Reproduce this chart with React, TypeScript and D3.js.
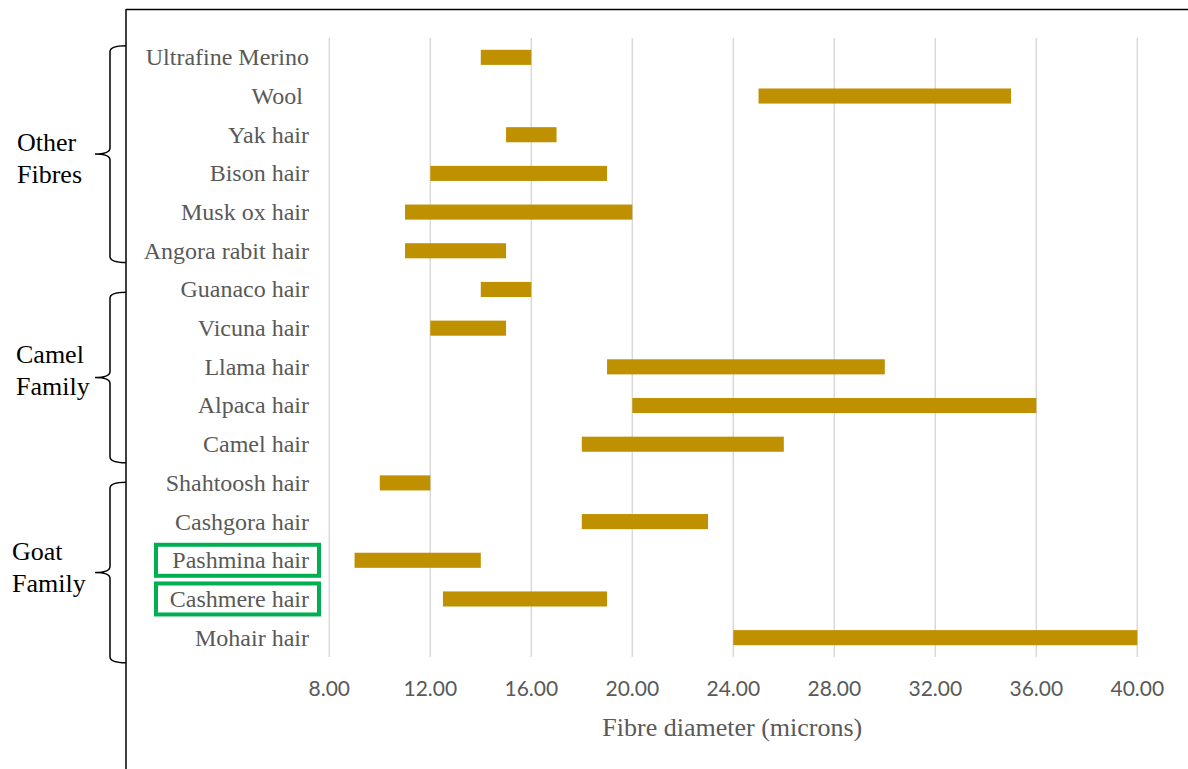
import React, { useEffect, useRef } from 'react';
import * as d3 from 'd3';

// fibre categories, top to bottom
const categories = [
  'Ultrafine Merino', 'Wool ', 'Yak hair', 'Bison hair', 'Musk ox hair',
  'Angora rabit hair', 'Guanaco hair', 'Vicuna hair', 'Llama hair', 'Alpaca hair',
  'Camel hair', 'Shahtoosh hair', 'Cashgora hair', 'Pashmina hair', 'Cashmere hair',
  'Mohair hair',
];
// diameter range (microns)
const minDiameter = [14, 25, 15, 12, 11, 11, 14, 12, 19, 20, 18, 10, 18, 9, 12.5, 24];
const maxDiameter = [16, 35, 17, 19, 20, 15, 16, 15, 30, 36, 26, 12, 23, 14, 19, 40];
const xTicks = [8, 12, 16, 20, 24, 28, 32, 36, 40];

// group brackets: row index span (fractional) and label lines
const groupNames = [['Other', 'Fibres'], ['Camel', 'Family'], ['Goat', 'Family']];
const groupFrom = [-0.3, 6.07, 10.98];
const groupTo = [5.3, 10.48, 15.65];

const highlighted = ['Pashmina hair', 'Cashmere hair'];

export default function App() {
  const ref = useRef<SVGSVGElement>(null);

  useEffect(() => {
    const width = 1188, height = 769;
    const left = 329.3, right = 1137.3, top = 38, bottom = 657;
    const svg = d3.select(ref.current);
    svg.selectAll('*').remove();

    const x = d3.scaleLinear().domain([8, 40]).range([left, right]);
    const y = d3.scaleBand<string>().domain(categories).range([top, bottom])
      .paddingInner(0.61).paddingOuter(0.305);
    const step = y.step();
    const rowY = (i: number) => top + (i + 0.5) * step;

    //frame lines
    svg.append('line').attr('x1', 126).attr('x2', width).attr('y1', 9.5).attr('y2', 9.5)
      .attr('stroke', '#000').attr('stroke-width', 1.5);
    svg.append('line').attr('x1', 126).attr('x2', 126).attr('y1', 9).attr('y2', height)
      .attr('stroke', '#000').attr('stroke-width', 1.5);

    //gridlines
    svg.append('g').selectAll('line').data(xTicks).join('line')
      .attr('x1', d => x(d)).attr('x2', d => x(d))
      .attr('y1', top).attr('y2', bottom)
      .attr('stroke', '#d9d9d9').attr('stroke-width', 1.5);

    //bars
    svg.append('g').selectAll('rect').data(categories).join('rect')
      .attr('x', (d, i) => x(minDiameter[i]))
      .attr('width', (d, i) => x(maxDiameter[i]) - x(minDiameter[i]))
      .attr('y', d => y(d)!)
      .attr('height', y.bandwidth())
      .attr('fill', '#bf9000');

    //category labels
    svg.append('g').selectAll('text').data(categories).join('text')
      .attr('x', 309).attr('y', d => y(d)! + y.bandwidth() / 2)
      .attr('dy', '0.33em')
      .attr('text-anchor', 'end')
      .attr('font-family', '"Liberation Serif", "Times New Roman", serif')
      .attr('font-size', 24).attr('fill', '#595959')
      .style('white-space', 'pre')
      .text(d => d);

    //highlight boxes
    svg.append('g').selectAll('rect').data(highlighted).join('rect')
      .attr('x', 156).attr('width', 163)
      .attr('y', d => y(d)! + y.bandwidth() / 2 - 15.5)
      .attr('height', 31)
      .attr('fill', 'none').attr('stroke', '#00b050').attr('stroke-width', 4);

    //x tick labels
    svg.append('g').selectAll('text').data(xTicks).join('text')
      .attr('x', d => x(d)).attr('y', 696)
      .attr('text-anchor', 'middle')
      .attr('font-family', 'Lato, "Noto Sans", sans-serif')
      .attr('font-size', 21).attr('fill', '#595959')
      .text(d => d3.format('.2f')(d));

    svg.append('text')
      .attr('x', (left + right) / 2 - 1).attr('y', 736)
      .attr('text-anchor', 'middle')
      .attr('font-family', '"Liberation Serif", "Times New Roman", serif')
      .attr('font-size', 26).attr('fill', '#595959')
      .text('Fibre diameter (microns)');

    //group braces
    const brace = (y0: number, y1: number) => {
      const x1 = 126, x2 = 110, xt = 95, r = 6;
      const ym = (y0 + y1) / 2;
      return `M${x1},${y0} Q${x2},${y0} ${x2},${y0 + r} L${x2},${ym - r} Q${x2},${ym} ${xt},${ym}` +
        ` Q${x2},${ym} ${x2},${ym + r} L${x2},${y1 - r} Q${x2},${y1} ${x1},${y1}`;
    };
    const labelShift = [-3, -14, -12];
    const labelX = [17, 16, 12];
    groupNames.forEach((names, g) => {
      const y0 = rowY(groupFrom[g]), y1 = rowY(groupTo[g]);
      svg.append('path').attr('d', brace(y0, y1))
        .attr('fill', 'none').attr('stroke', '#000').attr('stroke-width', 1.5);
      const t = svg.append('text')
        .attr('x', labelX[g]).attr('y', (y0 + y1) / 2 + labelShift[g])
        .attr('font-family', '"Liberation Serif", "Times New Roman", serif')
        .attr('font-size', 26).attr('fill', '#000');
      names.forEach((n, k) => {
        t.append('tspan').attr('x', labelX[g]).attr('dy', k === 0 ? 0 : 32).text(n);
      });
    });
  }, []);

  return (
    <svg ref={ref} width={1188} height={769}
      style={{ position: 'absolute', left: 0, top: 0, background: '#fff' }} />
  );
}
